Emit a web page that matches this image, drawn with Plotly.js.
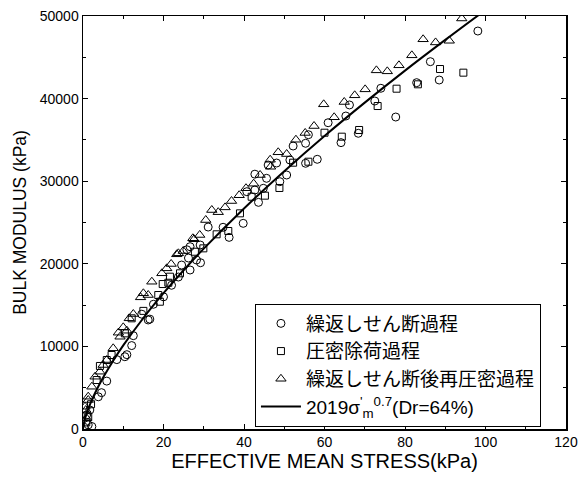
<!DOCTYPE html>
<html>
<head>
<meta charset="utf-8">
<script src="https://cdn.plot.ly/plotly-3.0.1.min.js"></script>
<style>html,body{margin:0;padding:0;background:#fff;}#chart{width:578px;height:477px;}</style>
</head>
<body>
<div id="chart"></div>
<script>
// 繰返しせん断過程 (circles)
const circleX = [0.3,1.3,2.2,0.9,1.7,3.8,4.6,5.9,8.4,10.4,10.9,12.1,12.5,14.6,16.2,16.6,17.5,20.0,22.0,23.7,24.5,26.2,26.6,28.2,29.2,25.8,29.1,26.6,31.1,34.8,36.3,39.8,40.7,42.7,43.6,42.7,44.8,45.6,46.0,48.1,48.9,50.6,51.4,52.2,55.3,55.3,56.0,58.2,60.9,64.1,65.3,66.2,68.4,72.5,74.0,77.7,82.9,86.3,88.5,98.1];
const circleY = [200,500,300,1700,2300,3900,4400,5800,8400,8750,9000,10100,11300,13900,13200,13300,15100,16000,17400,18400,19850,20700,19250,20460,20130,21700,22280,22070,24450,24420,23200,24900,28730,28930,27440,30850,29140,30350,31960,32200,29940,30750,32570,34260,34590,32170,35630,32650,37080,34670,37890,39230,35800,39710,41250,37770,41930,44470,42250,48180];
// 圧密除荷過程 (squares)
const squareX = [0.8,1.3,2.0,3.4,4.2,5.9,7.1,10.4,12.1,15.0,18.7,19.1,19.8,21.2,21.6,24.1,27.8,29.9,33.2,36.1,39.0,41.9,45.2,48.8,52.2,56.0,60.0,64.3,68.6,73.2,77.9,83.2,88.7,94.5];
const squareY = [800,1490,3000,5930,7630,8350,8960,11580,13400,14300,16220,15410,17550,17710,18440,18850,21460,21870,23570,23970,26110,28120,28250,29180,32240,32360,35870,35390,36200,39100,41200,41730,43580,43140];
// 繰返しせん断後再圧密過程 (triangles)
const triX = [0.5,0.7,0.9,1.3,1.3,2.2,3.0,4.2,5.0,5.9,7.5,8.8,9.2,10.0,10.9,11.5,12.5,14.3,15.0,16.2,17.1,19.6,20.8,21.9,23.3,23.7,24.9,27.3,27.6,29.0,30.5,32.0,33.6,35.3,36.9,38.8,40.5,42.4,44.0,46.6,46.5,48.5,50.6,52.9,55.2,57.4,59.8,62.4,64.9,67.5,70.1,72.9,75.6,78.5,81.7,84.5,87.6,91.0,94.1];
const triY = [2700,2300,1290,3510,3910,5120,6330,6940,7750,8350,9770,11660,11170,12310,11900,13400,13920,15940,16430,16220,17830,18850,19450,19980,21150,21270,21550,23090,22970,23490,25300,26510,26250,26830,27600,28300,29150,29700,30750,31750,32600,33500,33290,35020,35840,36680,39310,37740,39590,40400,41120,43420,43300,44030,45240,47180,46800,47000,49700];
// 2019σ'm^0.7 curve, values
const fitX = [0,0.1,0.25,0.5,1,2,3,5,7.5,10,15,20,25,30,40,50,60,70,80,90,98.5];
const fitY = [0,403,765,1243,2019,3280,4357,6229,8273,10119,13440,16438,19218,21834,26705,31214,35474,39512,43388,47104,50190];

const names = ['繰返しせん断過程','圧密除荷過程','繰返しせん断後再圧密過程','2019σ<sup>\'</sup><sub>m</sub><sup>0.7</sup>(Dr=64%)'];

const mk = (sym, size) => ({symbol: sym, size: size, color: 'black', line: {color: 'black', width: 1}});
const traces = [
  {x: circleX, y: circleY, name: names[0], type: 'scatter', mode: 'markers', marker: mk('circle-open', 8)},
  {x: squareX, y: squareY, name: names[1], type: 'scatter', mode: 'markers', marker: mk('square-open', 7)},
  {x: triX, y: triY, name: names[2], type: 'scatter', mode: 'markers', marker: mk('triangle-up-open', 9)},
  {x: fitX, y: fitY, name: names[3], type: 'scatter', mode: 'lines', line: {color: 'black', width: 2, shape: 'spline'}}
];

const axisCommon = {
  showline: true, linecolor: 'black', linewidth: 1.5, mirror: 'ticks',
  ticks: 'inside', ticklen: 5, tickwidth: 1, tickcolor: 'black',
  showgrid: false, zeroline: false,
  tickfont: {size: 14, color: 'black'}
};

const layout = {
  width: 578, height: 477,
  margin: {l: 83, r: 12, t: 16, b: 48},
  paper_bgcolor: 'white', plot_bgcolor: 'white',
  font: {family: '"Liberation Sans", Arial, "Noto Sans CJK JP", sans-serif', color: 'black'},
  showlegend: true,
  xaxis: Object.assign({}, axisCommon, {
    range: [0, 120], dtick: 20, tick0: 0,
    minor: {ticks: 'inside', dtick: 10, ticklen: 3, tickcolor: 'black'},
    title: {text: 'EFFECTIVE MEAN STRESS(kPa)', font: {size: 20}, standoff: 2}
  }),
  yaxis: Object.assign({}, axisCommon, {
    range: [0, 50000], dtick: 10000, tick0: 0, tickformat: 'd',
    minor: {ticks: 'inside', dtick: 5000, ticklen: 3, tickcolor: 'black'},
    title: {text: 'BULK MODULUS (kPa)', font: {size: 17.5}, standoff: 8}
  }),
  legend: {
    x: 0.356, y: 0.006, xanchor: 'left', yanchor: 'bottom',
    bordercolor: 'black', borderwidth: 1, bgcolor: 'white',
    font: {size: 19, family: '"Liberation Sans", "Noto Sans CJK JP", sans-serif'},
    itemwidth: 40, tracegroupgap: 0
  }
};

Plotly.newPlot('chart', traces, layout, {displayModeBar: false, staticPlot: true});
</script>
</body>
</html>
